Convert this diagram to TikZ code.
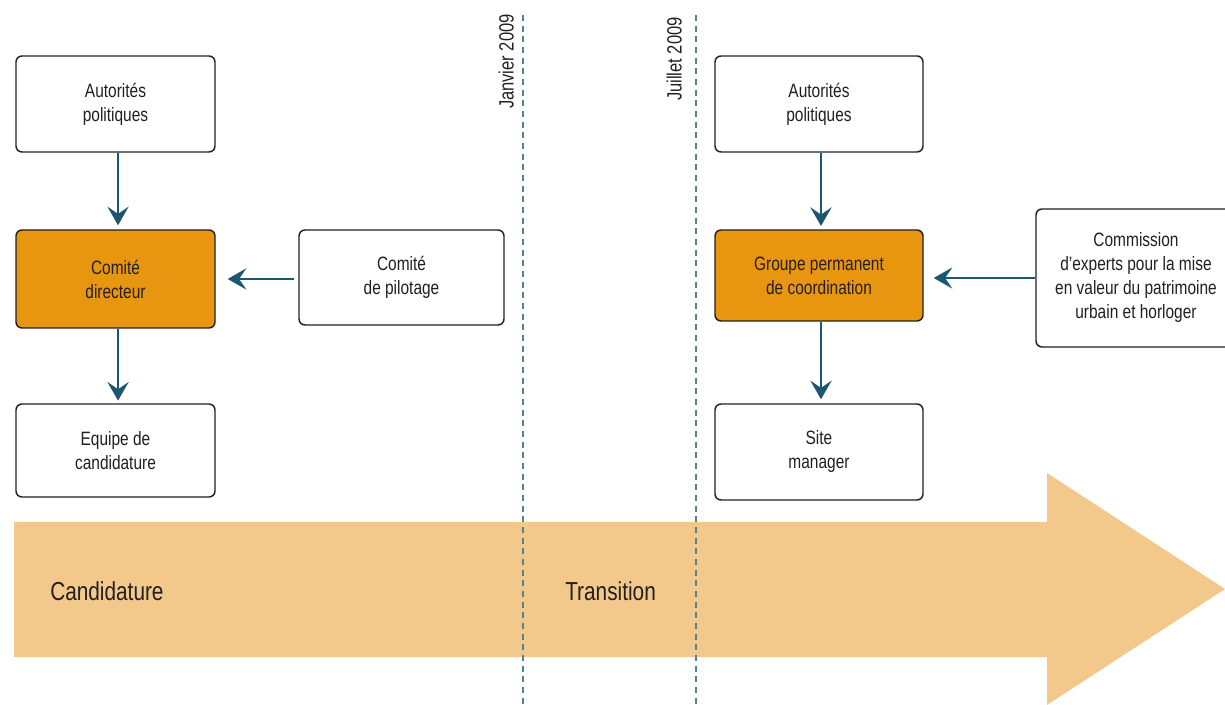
\documentclass[tikz,border=0pt]{standalone}
\usepackage{fontspec}
\setmainfont[FakeStretch=0.8]{Liberation Sans}
\usetikzlibrary{arrows.meta}
\definecolor{boxorange}{HTML}{E8950F}
\definecolor{phasefill}{HTML}{F2C98B}
\definecolor{linkteal}{HTML}{1C5671}
\definecolor{datedash}{HTML}{4E8698}
\definecolor{ink}{HTML}{231F20}
\begin{document}
\begin{tikzpicture}[x=0.75pt,y=-0.75pt,
  orgbox/.style={draw=ink,line width=1.1pt,rounded corners=4.5pt,fill=white,
    align=center,text=ink,font=\fontsize{14.5pt}{18pt}\selectfont,inner sep=0pt},
  keybox/.style={orgbox,fill=boxorange},
  link/.style={draw=linkteal,line width=1.2pt,
    -{Stealth[length=14pt,width=16pt,inset=5.5pt]}},
  dateline/.style={draw=datedash,line width=1.4pt,dash pattern=on 4.5pt off 3.5pt},
  datelabel/.style={rotate=90,anchor=base east,inner sep=0pt,text=ink,
    font=\fontsize{15.5pt}{18pt}\selectfont},
  phaselabel/.style={anchor=base west,inner sep=0pt,text=ink,
    font=\fontsize{19.5pt}{24pt}\selectfont}]
\useasboundingbox (0,0) rectangle (1225,705);
\clip (0,0) rectangle (1225,705);

% phase arrow along the bottom
\fill[phasefill] (14,522) -- (1047,522) -- (1047,473) -- (1225,589)
  -- (1047,705) -- (1047,657) -- (14,657) -- cycle;
\node[phaselabel] (candidature) at (50,600) {Candidature};
\node[phaselabel] (transition) at (565,600) {Transition};

% date markers
\coordinate (jan-top) at (523,15);
\coordinate (jan-bot) at (523,705);
\coordinate (jul-top) at (696,15);
\coordinate (jul-bot) at (696,705);
\draw[dateline] (jan-top) -- (jan-bot);
\draw[dateline] (jul-top) -- (jul-bot);
\node[datelabel] (janvier) at (513.5,14) {Janvier 2009};
\node[datelabel] (juillet) at (681.5,17) {Juillet 2009};

% candidature organisation
\node[orgbox,minimum width=149.25pt,minimum height=72pt] (ap1) at (115.5,104) {Autorités\\politiques};
\node[keybox,minimum width=149.25pt,minimum height=73.5pt] (cd) at (115.5,279) {Comité\\directeur};
\node[orgbox,minimum width=149.25pt,minimum height=69.75pt] (eq) at (115.5,450.5) {Equipe de\\candidature};
\node[orgbox,minimum width=153.75pt,minimum height=71.25pt] (cp) at (401.5,277.5) {Comité\\de pilotage};

% transition organisation
\node[orgbox,minimum width=156pt,minimum height=72pt] (ap2) at (819,104) {Autorités\\politiques};
\node[keybox,minimum width=156pt,minimum height=68.25pt] (gp) at (819,275.5) {Groupe permanent\\de coordination};
\node[orgbox,minimum width=156pt,minimum height=72pt] (sm) at (819,452) {Site\\manager};
\node[orgbox,minimum width=150pt,minimum height=103.5pt] (cm) at (1136,278) {Commission\\d’experts pour la mise\\en valeur du patrimoine\\urbain et horloger};

% reporting links
\draw[link,shorten >=3pt] ([xshift=1.9pt]ap1.south) -- ([xshift=1.9pt]cd.north);
\draw[link,shorten >=2pt] ([xshift=1.9pt]cd.south) -- ([xshift=1.9pt]eq.north);
\draw[link,shorten <=3pt,shorten >=9pt] ([yshift=-1.1pt]cp.west) -- ([yshift=-1.1pt]cp.west -| cd.east);
\draw[link,shorten >=2.5pt] ([xshift=1.5pt]ap2.south) -- ([xshift=1.5pt]gp.north);
\draw[link,shorten >=3pt] ([xshift=1.5pt]gp.south) -- ([xshift=1.5pt]sm.north);
\draw[link,shorten >=7.5pt] (cm.west) -- (cm.west -| gp.east);
\end{tikzpicture}
\end{document}
